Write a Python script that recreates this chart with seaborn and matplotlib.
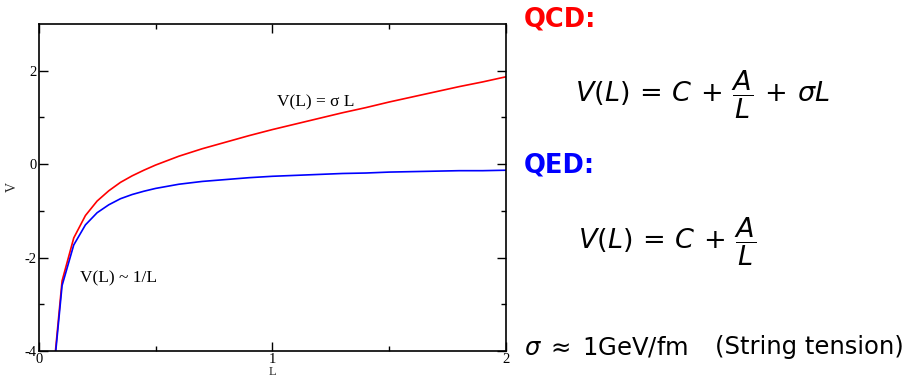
import matplotlib
matplotlib.use("Agg")
import matplotlib.pyplot as plt
import seaborn as sns
import pandas as pd

# Values
L_values = [0.05, 0.10, 0.15, 0.20, 0.25, 0.30, 0.35, 0.40, 0.45, 0.50,
            0.60, 0.70, 0.80, 0.90, 1.00, 1.10, 1.20, 1.30, 1.40, 1.50,
            1.60, 1.70, 1.80, 1.90, 2.00]
V_qed = [-5.20, -2.60, -1.73, -1.30, -1.04, -0.87, -0.74, -0.65, -0.58, -0.52,
         -0.43, -0.37, -0.33, -0.29, -0.26, -0.24, -0.22, -0.20, -0.19, -0.17,
         -0.16, -0.15, -0.14, -0.14, -0.13]
V_qcd = [-5.15, -2.50, -1.58, -1.10, -0.79, -0.57, -0.39, -0.25, -0.13, -0.02,
         0.17, 0.33, 0.47, 0.61, 0.74, 0.86, 0.98, 1.10, 1.21, 1.33,
         1.44, 1.55, 1.66, 1.76, 1.87]
x_ticks = [0, 1, 2]
y_ticks = [-4, -2, 0, 2]

sns.set_style("ticks")
plt.rcParams["mathtext.fontset"] = "dejavusans"
plt.rcParams["axes.unicode_minus"] = False

W, H = 905, 377
fig = plt.figure(figsize=(W / 100, H / 100), dpi=100)
ax = fig.add_axes([38.7 / W, 1 - 351 / H, (506 - 38.7) / W, (351 - 24) / H])

df = pd.DataFrame({"L": L_values + L_values,
                   "V": V_qcd + V_qed,
                   "model": ["QCD"] * len(L_values) + ["QED"] * len(L_values)})
sns.lineplot(data=df, x="L", y="V", hue="model",
             palette={"QCD": "#ff0000", "QED": "#0000ff"},
             linewidth=1.2, legend=False, ax=ax)

ax.set_xlim(0, 2)
ax.set_ylim(-4, 3)
ax.set_xticks(x_ticks)
ax.set_yticks(y_ticks)
ax.set_xticks([0.5, 1.5], minor=True)
ax.set_yticks([-3, -1, 1], minor=True)

serif = "Liberation Serif"
ax.tick_params(which="both", direction="in", top=True, right=True,
               colors="black", width=1.0)
ax.tick_params(which="major", length=6.5, pad=1.5)
ax.tick_params(which="minor", length=3.8)
for lab in ax.get_xticklabels() + ax.get_yticklabels():
    lab.set_fontfamily(serif)
    lab.set_fontsize(10.5)
for s in ax.spines.values():
    s.set_color("black")
    s.set_linewidth(1.2)

ax.set_xlabel("L", fontfamily=serif, fontsize=9)
ax.set_ylabel("V", fontfamily=serif, fontsize=10)
ax.xaxis.set_label_coords(0.5, -0.047)
ax.yaxis.set_label_coords(-0.042, 0.5)

ax.text(1.02, 1.33, "V(L) = σ L", fontfamily=serif, fontsize=12.5,
        ha="left", va="center", color="black")
ax.text(0.177, -2.44, "V(L) ~ 1/L", fontfamily=serif, fontsize=12.5,
        ha="left", va="center", color="black")

def ft(xp, yp, s, **kw):
    fig.text(xp / W, 1 - yp / H, s, **kw)

ft(524, 19, "QCD:", color="#ff0000", fontsize=18.5, fontweight="bold",
   ha="left", va="center", family="DejaVu Sans")
ft(575, 95, r"$V(L) \,=\, C \,+\, \dfrac{A}{L} \,+\, \sigma L$", color="black",
   fontsize=19.5, ha="left", va="center")
ft(524, 166, "QED:", color="#0000ff", fontsize=18.5, fontweight="bold",
   ha="left", va="center", family="DejaVu Sans")
ft(578, 242, r"$V(L) \,=\, C \,+\, \dfrac{A}{L}$", color="black",
   fontsize=19.5, ha="left", va="center")
ft(524, 347, r"$\sigma \;\approx\; 1\mathrm{GeV/fm}$",
   color="black", fontsize=17.5, ha="left", va="center", family="DejaVu Sans")
ft(715, 347, "(String tension)",
   color="black", fontsize=17.5, ha="left", va="center", family="DejaVu Sans")

fig.savefig("out.png", dpi=100)
